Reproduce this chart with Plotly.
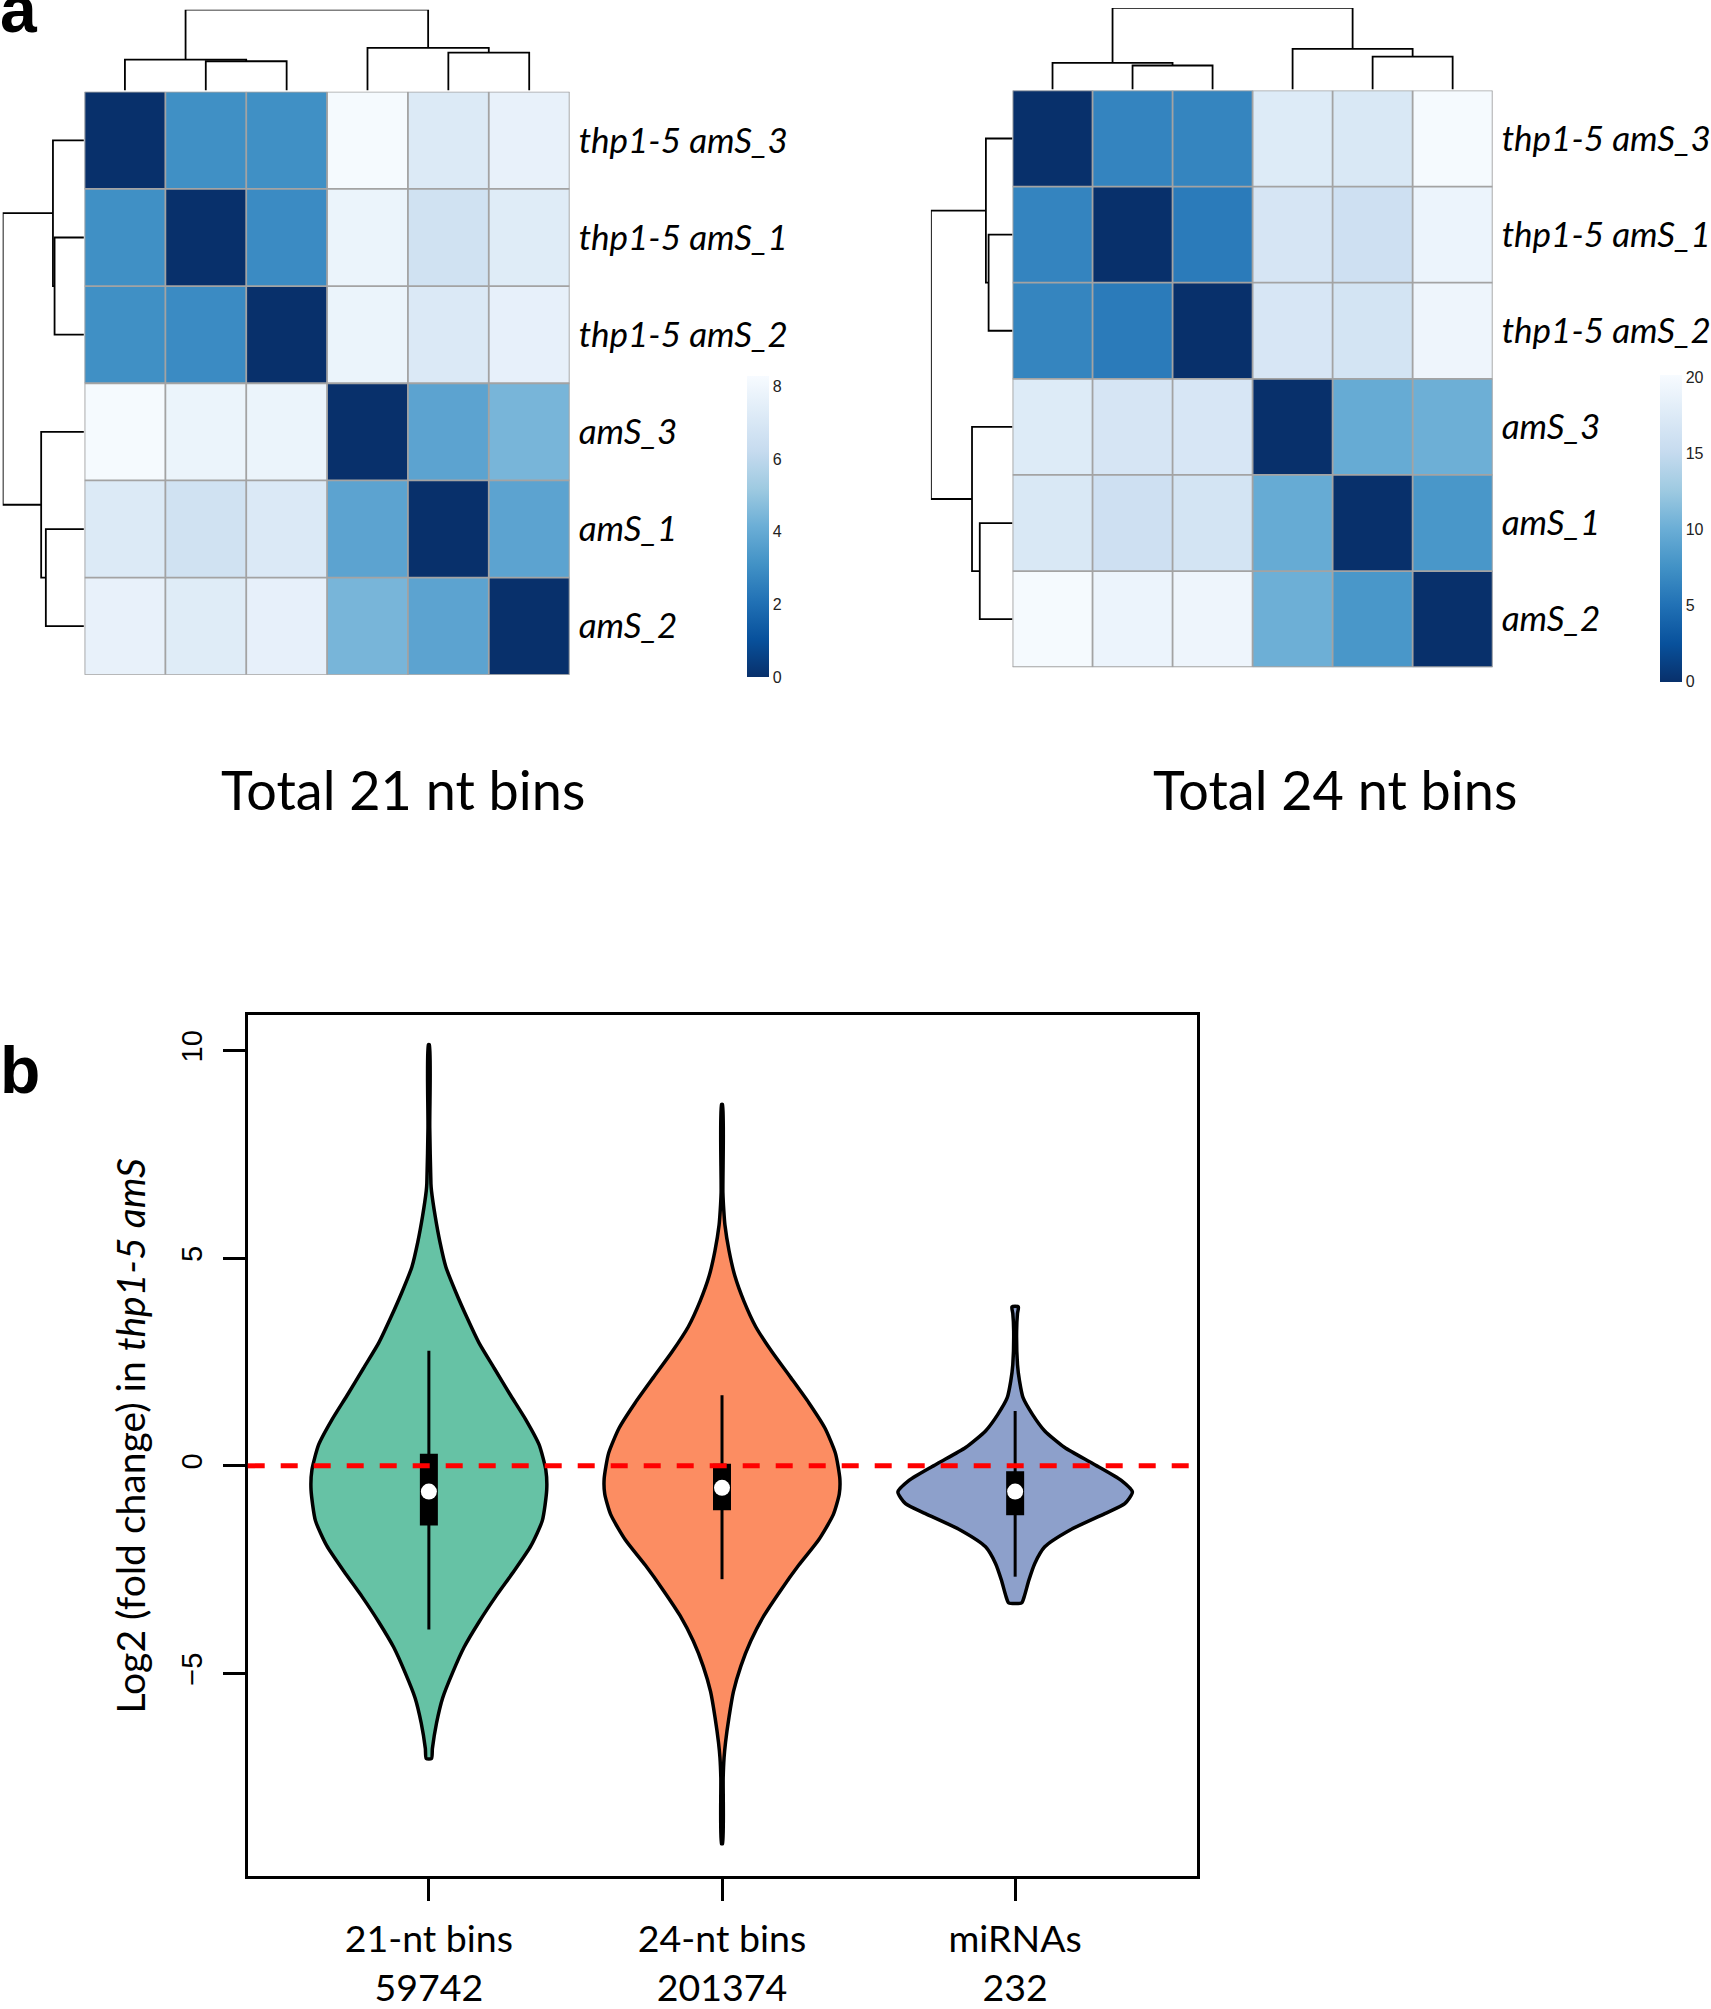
import plotly.graph_objects as go

# ---------------- data ----------------
samples = ["thp1-5 amS_3", "thp1-5 amS_1", "thp1-5 amS_2", "amS_3", "amS_1", "amS_2"]

dist_21nt = [
    [0.00, 3.05, 3.05, 8.20, 7.15, 7.65],
    [3.05, 0.00, 2.90, 7.80, 6.65, 7.30],
    [3.05, 2.90, 0.00, 7.80, 7.10, 7.60],
    [8.20, 7.80, 7.80, 0.00, 3.75, 4.40],
    [7.15, 6.65, 7.10, 3.75, 0.00, 3.75],
    [7.65, 7.30, 7.60, 4.40, 3.75, 0.00],
]
dist_24nt = [
    [0.0, 6.5, 6.6, 17.6, 17.2, 20.0],
    [6.5, 0.0, 5.8, 16.8, 16.0, 19.1],
    [6.6, 5.8, 0.0, 16.9, 16.5, 19.3],
    [17.6, 16.8, 16.9, 0.0, 9.8, 10.2],
    [17.2, 16.0, 16.5, 9.8, 0.0, 8.0],
    [20.0, 19.1, 19.3, 10.2, 8.0, 0.0],
]
# hierarchical merges (leaf ids 0-5, merge k gets id 6+k) and heights
merges = [(1, 2), (0, 6), (4, 5), (3, 8), (7, 9)]
heights_21nt = [2.89, 3.05, 3.75, 4.21, 8.0]
heights_24nt = [5.76, 6.41, 7.88, 9.74, 19.6]
zmax_21nt = 8.28
zmax_24nt = 20.2
cbar_ticks_21nt = [0, 2, 4, 6, 8]
cbar_ticks_24nt = [0, 5, 10, 15, 20]

# violin panel
groups = ["21-nt bins<br>59742", "24-nt bins<br>201374", "miRNAs<br>232"]
violin_colors = ["#66C2A5", "#FC8D62", "#8DA0CB"]
# outline: y level and half width (x units)
v1_y = [10.14, 8.15, 6.80, 6.62, 6.01, 5.40, 4.79, 4.18, 3.57, 2.96, 2.35, 1.73, 1.12, 0.51,
        -0.10, -0.58, -1.32, -1.93, -2.54, -3.15, -3.76, -4.37, -4.98, -5.59, -6.20, -6.81, -7.05]
v1_w = [0.002, 0.003, 0.007, 0.009, 0.0216, 0.0375, 0.058, 0.092, 0.13, 0.171, 0.223, 0.276, 0.33, 0.376,
        0.399, 0.402, 0.387, 0.348, 0.29, 0.228, 0.171, 0.12, 0.081, 0.047, 0.026, 0.012, 0.009]
v2_y = [8.70, 6.59, 6.16, 5.80, 5.18, 4.57, 3.96, 3.35, 2.74, 2.13, 1.52, 0.91, 0.30, -0.31,
        -0.68, -1.17, -1.78, -2.39, -3.00, -3.61, -4.22, -4.83, -5.44, -6.05, -6.66, -7.03, -7.51, -9.10]
v2_w = [0.002, 0.003, 0.006, 0.010, 0.024, 0.044, 0.075, 0.115, 0.171, 0.234, 0.296, 0.351, 0.387, 0.402,
        0.400, 0.38, 0.33, 0.262, 0.2, 0.143, 0.098, 0.064, 0.039, 0.024, 0.012, 0.007, 0.004, 0.002]
v3_y = [3.83, 3.67, 3.24, 2.44, 2.04, 1.64, 1.24, 0.84, 0.44, 0.05, -0.35, -0.63, -0.91, -1.15,
        -1.55, -1.95, -2.35, -2.75, -3.15, -3.30]
v3_w = [0.011, 0.008, 0.005, 0.008, 0.015, 0.027, 0.059, 0.101, 0.169, 0.266, 0.362, 0.40, 0.374, 0.306,
        0.186, 0.101, 0.067, 0.047, 0.031, 0.022]
whisker_lo = [-3.94, -2.73, -2.67]
whisker_hi = [2.77, 1.70, 1.32]
q1 = [-1.44, -1.07, -1.19]
q3 = [0.29, 0.05, -0.13]
medians = [-0.62, -0.53, -0.62]
reference_line = 0

W, H = 1711, 2009


def dx(a, b):
    return [a / W, b / W]


def dy(top, bottom):
    return [1 - bottom / H, 1 - top / H]


def dendro(merges, hts):
    pos = {i: float(i) for i in range(6)}
    hh = {i: 0.0 for i in range(6)}
    P, Hs = [], []
    for k, ((a, b), h) in enumerate(zip(merges, hts)):
        P += [pos[a], pos[a], pos[b], pos[b], None]
        Hs += [hh[a], h, h, hh[b], None]
        pos[6 + k] = (pos[a] + pos[b]) / 2
        hh[6 + k] = h
    return P, Hs


blues = ["#08306B", "#08519C", "#2171B5", "#4292C6", "#6BAED6", "#9ECAE1", "#C6DBEF", "#DEEBF7", "#F7FBFF"]
cscale = [[i / 8, c] for i, c in enumerate(blues)]

fig = go.Figure()
GRID = "#A3A3A3"
LBL_FONT = dict(family="Lato", size=35, color="black", style="italic")
CB_FONT = dict(family="Liberation Sans", size=16, color="#222")


def add_heatmap(n, mat, zmax, hts, ticks, cbx, cby_top, cby_bot, cb_thick):
    xa, ya = ("x" if n == 1 else "x4"), ("y" if n == 1 else "y4")
    fig.add_trace(go.Heatmap(
        z=mat, x=list(range(6)), y=list(range(6)), colorscale=cscale, zmin=0, zmax=zmax,
        xaxis=xa, yaxis=ya, hoverinfo="skip",
        colorbar=dict(x=cbx / W, xanchor="left", thickness=cb_thick, thicknessmode="pixels",
                      len=(cby_bot - cby_top) / H, lenmode="fraction", y=1 - cby_bot / H, yanchor="bottom",
                      outlinewidth=0, tickvals=ticks, ticks="", tickfont=CB_FONT, xpad=0, ypad=0)))
    for i in range(7):
        b = i - 0.5
        fig.add_shape(type="line", x0=b, x1=b, y0=-0.5, y1=5.5, xref=xa, yref=ya,
                      line=dict(color=GRID, width=1.8))
        fig.add_shape(type="line", y0=b, y1=b, x0=-0.5, x1=5.5, xref=xa, yref=ya,
                      line=dict(color=GRID, width=1.8))
    P, Hs = dendro(merges, hts)
    cx, cy = ("x2", "y2") if n == 1 else ("x5", "y5")
    rx, ry = ("x3", "y3") if n == 1 else ("x6", "y6")
    fig.add_trace(go.Scatter(x=P, y=Hs, mode="lines", line=dict(color="black", width=1.8),
                             xaxis=cx, yaxis=cy, cliponaxis=False, hoverinfo="skip"))
    fig.add_trace(go.Scatter(x=Hs, y=P, mode="lines", line=dict(color="black", width=1.8),
                             xaxis=rx, yaxis=ry, cliponaxis=False, hoverinfo="skip"))


add_heatmap(1, dist_21nt, zmax_21nt, heights_21nt, cbar_ticks_21nt, 748.3, 378.3, 681.7, 22)
add_heatmap(2, dist_24nt, zmax_24nt, heights_24nt, cbar_ticks_24nt, 1661.7, 376.7, 686.0, 21.6)

# violins
for i, (vy, vw) in enumerate([(v1_y, v1_w), (v2_y, v2_w), (v3_y, v3_w)]):
    c = i + 1
    xs = [c - w for w in vw] + [c + w for w in reversed(vw)]
    ys = list(vy) + list(reversed(vy))
    fig.add_trace(go.Scatter(x=xs + [xs[0]], y=ys + [ys[0]], mode="lines", fill="toself",
                             fillcolor=violin_colors[i],
                             line=dict(color="black", width=3.5, shape="spline", smoothing=0.6),
                             xaxis="x7", yaxis="y7", hoverinfo="skip"))
    fig.add_trace(go.Scatter(x=[c, c], y=[whisker_lo[i], whisker_hi[i]], mode="lines",
                             line=dict(color="black", width=3), xaxis="x7", yaxis="y7", hoverinfo="skip"))
    fig.add_trace(go.Scatter(x=[c, c], y=[q1[i], q3[i]], mode="lines",
                             line=dict(color="black", width=18), xaxis="x7", yaxis="y7", hoverinfo="skip"))
    fig.add_trace(go.Scatter(x=[c], y=[medians[i]], mode="markers",
                             marker=dict(color="white", size=16, line=dict(width=0)),
                             xaxis="x7", yaxis="y7", hoverinfo="skip"))

fig.add_shape(type="line", xref="x7 domain", yref="y7", x0=0, x1=1, y0=reference_line, y1=reference_line,
              line=dict(color="#FF0000", width=5, dash="17px,16px"))

noax = dict(showgrid=False, zeroline=False, showticklabels=False, ticks="", showline=False)
lay = dict(
    width=W, height=H, margin=dict(l=0, r=0, t=0, b=0), paper_bgcolor="white", plot_bgcolor="white",
    showlegend=False,
    xaxis=dict(domain=dx(84.6, 570.3), range=[-0.5, 5.5], anchor="y", **noax),
    yaxis=dict(domain=dy(92.3, 679.2), range=[5.5, -0.5], anchor="x", side="right",
               tickvals=list(range(6)), ticktext=samples, showticklabels=True, ticks="",
               tickfont=LBL_FONT, ticklabelstandoff=8, showgrid=False, zeroline=False, showline=False),
    xaxis2=dict(domain=dx(84.6, 570.3), range=[-0.5, 5.5], anchor="y2", **noax),
    yaxis2=dict(domain=dy(9.7, 91), range=[0, heights_21nt[-1]], anchor="x2", **noax),
    xaxis3=dict(domain=dx(2.7, 84), range=[heights_21nt[-1], 0], anchor="y3", **noax),
    yaxis3=dict(domain=dy(92.3, 679.2), range=[5.5, -0.5], anchor="x3", **noax),
    xaxis4=dict(domain=dx(1013.7, 1494.4), range=[-0.5, 5.5], anchor="y4", **noax),
    yaxis4=dict(domain=dy(91, 671.6), range=[5.5, -0.5], anchor="x4", side="right",
                tickvals=list(range(6)), ticktext=samples, showticklabels=True, ticks="",
                tickfont=LBL_FONT, ticklabelstandoff=8, showgrid=False, zeroline=False, showline=False),
    xaxis5=dict(domain=dx(1013.7, 1494.4), range=[-0.5, 5.5], anchor="y5", **noax),
    yaxis5=dict(domain=dy(8, 90), range=[0, heights_24nt[-1]], anchor="x5", **noax),
    xaxis6=dict(domain=dx(932, 1013.8), range=[heights_24nt[-1], 0], anchor="y6", **noax),
    yaxis6=dict(domain=dy(91, 671.6), range=[5.5, -0.5], anchor="x6", **noax),
    xaxis7=dict(domain=dx(248, 1198), range=[0.382, 3.619], anchor="y7", tickvals=[1, 2, 3], ticktext=groups,
                ticks="outside", ticklen=22, tickwidth=2.5, tickcolor="black", showline=True, linecolor="black",
                linewidth=2.5, mirror=True, showgrid=False, zeroline=False,
                tickfont=dict(family="Lato", size=37.5, color="black"), ticklabelstandoff=6),
    yaxis7=dict(domain=dy(1021.5, 1888.7), range=[-9.89, 10.86], anchor="x7", tickvals=[-5, 0, 5, 10],
                ticks="outside", ticklen=22, tickwidth=2.5, tickcolor="black", showline=True, linecolor="black",
                linewidth=2.5, mirror=True, showgrid=False, zeroline=False, tickangle=-90,
                tickfont=dict(family="Liberation Sans", size=29, color="black"), ticklabelstandoff=9),
)
fig.update_layout(**lay)

ann = [
    dict(text="Total 21 nt bins", x=403 / W, y=1 - 794.6 / H, font=dict(family="Lato", size=54, color="black")),
    dict(text="Total 24 nt bins", x=1336.8 / W, y=1 - 794.6 / H, font=dict(family="Lato", size=54, color="black")),
    dict(text="Log2 (fold change) in <i>thp1-5 amS</i>", x=130 / W, y=1 - 1445 / H, textangle=-90,
         font=dict(family="Lato", size=39, color="black")),
    dict(text="<b>a</b>", x=-2 / W, y=1 + 30 / H, xanchor="left", yanchor="top",
         font=dict(family="Liberation Sans", size=66, color="black")),
    dict(text="<b>b</b>", x=-2 / W, y=1 - 1038 / H, xanchor="left", yanchor="top",
         font=dict(family="Liberation Sans", size=66, color="black")),
]
for a in ann:
    a.setdefault("xanchor", "center")
    a.setdefault("yanchor", "middle")
    fig.add_annotation(xref="paper", yref="paper", showarrow=False, **a)

page_css = ("document.documentElement.style.margin='0px';"
            "document.documentElement.style.overflow='hidden';"
            "document.body.style.margin='0px';"
            "document.body.style.overflow='hidden';")
fig.write_html("out.html", post_script=page_css, config={"displayModeBar": False})
